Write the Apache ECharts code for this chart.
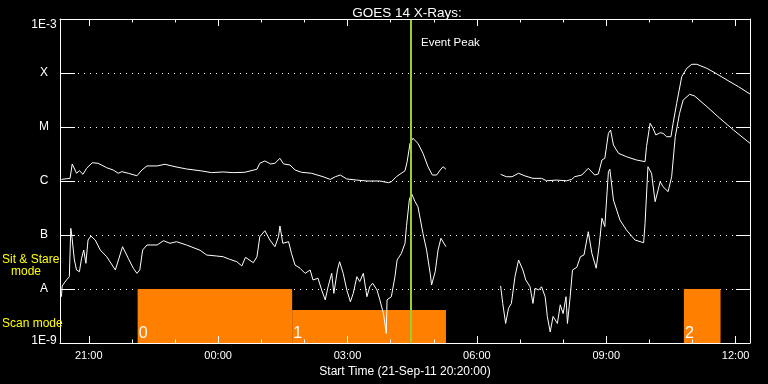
<!DOCTYPE html>
<html>
<head>
<meta charset="utf-8">
<script src="https://cdn.jsdelivr.net/npm/echarts@6/dist/echarts.min.js"></script>
<style>
html,body{margin:0;padding:0;background:#000;}
#chart{width:768px;height:384px;}
</style>
</head>
<body>
<div id="chart"></div>
<script>
// ---- data (times are clock times from 21-Sep-11 20:20 to 22-Sep-11 12:20) ----
const chartTitle = 'GOES 14 X-Rays:';
const xAxisName = 'Start Time (21-Sep-11 20:20:00)';
const xStart = '20:20';
const xEnd = '12:20';
const majorTickTimes = ['21:00', '00:00', '03:00', '06:00', '09:00', '12:00'];
const minorTickTimes = ['22:00', '23:00', '01:00', '02:00', '04:00', '05:00', '07:00', '08:00', '10:00', '11:00'];
const yExponents = [-9, -8, -7, -6, -5, -4, -3];
const yTickLabels = ['1E-9', 'A', 'B', 'C', 'M', 'X', '1E-3'];

// 1-8 Angstrom channel (upper curve), W/m^2
const upperTimes = ['20:22','20:34','20:37','20:43','20:47','20:52','20:57','21:05','21:13','21:25','21:34','21:41','21:46','21:55','22:07','22:14','22:21','22:35','22:46','23:00','23:16','23:35','23:51','00:07','00:21','00:37','00:54','00:58','01:05','01:13','01:19','01:26','01:31','01:40','01:47','01:56','02:10','02:26','02:36','02:43','02:50','02:59','03:13','03:27','03:45','03:57','04:01','04:08','04:20','04:23','04:27','04:31','04:38','04:45','04:52','04:58','05:04','05:09','05:13','05:17','06:00','06:33','06:41','06:49','06:58','07:07','07:18','07:30','07:37','07:51','08:05','08:12','08:16','08:26','08:35','08:44','08:49','08:54','08:58','09:03','09:06','09:10','09:17','09:28','09:42','09:54','09:56','10:01','10:05','10:09','10:15','10:19','10:24','10:30','10:33','10:38','10:45','10:52','10:59','11:06','11:20','11:34','11:48','12:04','12:20'];
const upperFlux = [1.07e-6,1.12e-6,2.07e-6,1.39e-6,1.55e-6,1.33e-6,1.72e-6,2.18e-6,2.13e-6,1.76e-6,1.60e-6,1.39e-6,1.49e-6,1.39e-6,1.25e-6,1.60e-6,1.90e-6,1.90e-6,2.04e-6,1.84e-6,1.67e-6,1.55e-6,1.43e-6,1.47e-6,1.43e-6,1.45e-6,1.65e-6,2.13e-6,2.35e-6,2.07e-6,2.13e-6,2.63e-6,2.07e-6,1.98e-6,1.60e-6,1.45e-6,1.39e-6,1.20e-6,1.07e-6,1.20e-6,1.29e-6,1.09e-6,1.04e-6,1.00e-6,1.00e-6,9.3e-7,9.7e-7,1.20e-6,1.55e-6,2.28e-6,4.99e-6,6.18e-6,4.99e-6,3.26e-6,1.84e-6,1.29e-6,1.29e-6,1.60e-6,1.84e-6,1.65e-6,null,1.33e-6,1.20e-6,1.20e-6,1.39e-6,1.24e-6,1.12e-6,1.12e-6,1.01e-6,1.04e-6,1.01e-6,1.07e-6,1.20e-6,1.29e-6,1.72e-6,1.29e-6,1.35e-6,2.45e-6,2.63e-6,7.64e-6,8.80e-6,4.64e-6,3.26e-6,2.82e-6,2.45e-6,2.28e-6,4.32e-6,1.17e-5,9.46e-6,7.11e-6,7.84e-6,7.64e-6,6.61e-6,6.61e-6,1.17e-5,2.75e-5,8.54e-5,1.22e-4,1.45e-4,1.45e-4,1.22e-4,9.58e-5,7.41e-5,5.57e-5,4.08e-5];

// 0.5-4 Angstrom channel (lower curve), W/m^2
const lowerTimes = ['20:22','20:23','20:29','20:33','20:35','20:36','20:40','20:43','20:47','20:50','20:53','20:56','20:59','21:03','21:09','21:16','21:25','21:37','21:47','21:55','22:02','22:07','22:11','22:15','22:21','22:35','22:44','22:53','23:02','23:16','23:35','23:44','23:58','00:07','00:16','00:26','00:33','00:38','00:49','00:54','00:58','01:05','01:12','01:19','01:24','01:26','01:30','01:38','01:42','01:47','01:54','02:01','02:08','02:12','02:19','02:24','02:29','02:33','02:38','02:41','02:46','02:49','02:54','02:59','03:04','03:08','03:13','03:17','03:22','03:27','03:31','03:35','03:41','03:45','03:50','03:54','03:55','04:01','04:06','04:09','04:15','04:20','04:22','04:26','04:29','04:34','04:38','04:45','04:50','04:55','04:57','05:02','05:06','05:10','05:17','06:00','06:33','06:36','06:40','06:44','06:48','06:53','06:58','07:04','07:08','07:14','07:18','07:21','07:26','07:30','07:35','07:38','07:42','07:46','07:52','07:56','08:00','08:04','08:06','08:10','08:13','08:19','08:24','08:29','08:35','08:40','08:46','08:50','08:54','08:58','09:03','09:05','09:10','09:19','09:28','09:40','09:52','09:54','09:58','10:03','10:08','10:15','10:19','10:26','10:31','10:36','10:42','10:47','10:56','11:03','11:20','11:38','11:57','12:20'];
const lowerFlux = [7.2e-9,1.14e-8,1.47e-8,1.69e-8,1.33e-7,1.09e-7,3.44e-8,2.25e-8,2.09e-8,3.70e-8,5.27e-8,2.99e-8,8.07e-8,9.57e-8,8.07e-8,5.27e-8,3.96e-8,2.25e-8,6.07e-8,3.70e-8,2.42e-8,1.95e-8,2.25e-8,5.27e-8,6.53e-8,6.53e-8,7.84e-8,7.02e-8,7.52e-8,6.53e-8,5.21e-8,4.26e-8,4.08e-8,3.96e-8,3.55e-8,3.20e-8,2.67e-8,3.86e-8,3.07e-8,3.96e-8,9.31e-8,1.20e-7,8.07e-8,6.07e-8,9.31e-8,1.47e-7,7.02e-8,7.52e-8,4.58e-8,2.78e-8,2.42e-8,1.95e-8,2.25e-8,1.47e-8,1.58e-8,9.6e-9,6.3e-9,1.10e-8,1.95e-8,8.3e-9,2.25e-8,3.20e-8,1.95e-8,9.6e-9,5.8e-9,8.3e-9,1.69e-8,1.37e-8,1.95e-8,7.2e-9,1.10e-8,1.28e-8,9.6e-9,6.3e-9,3.5e-9,1.5e-9,6.3e-9,7.2e-9,1.69e-8,3.44e-8,4.58e-8,7.02e-8,1.43e-7,4.45e-7,5.92e-7,4.14e-7,3.34e-7,1.07e-7,5.27e-8,1.95e-8,1.19e-8,2.09e-8,5.27e-8,8.69e-8,6.07e-8,null,1.14e-8,5.4e-9,2.3e-9,4.4e-9,5.4e-9,1.69e-8,3.44e-8,2.25e-8,1.47e-8,1.10e-8,5.4e-9,1.03e-8,9.6e-9,1.10e-8,7.2e-9,3.1e-9,1.6e-9,3.1e-9,2.3e-9,5.1e-9,3.5e-9,7.2e-9,2.3e-9,7.7e-9,2.25e-8,2.52e-8,3.96e-8,4.26e-8,1.15e-7,4.58e-8,2.42e-8,6.07e-8,2.04e-7,1.43e-7,1.49e-6,1.65e-6,4.45e-7,1.90e-7,1.24e-7,8.07e-8,7.20e-8,1.65e-7,1.84e-6,1.39e-6,4.14e-7,9.7e-7,7.84e-7,6.34e-7,1.20e-6,6.61e-6,1.79e-5,3.16e-5,4.03e-5,3.75e-5,2.38e-5,1.45e-5,8.80e-6,4.99e-6];

// instrument mode intervals
const modeStart = ['22:08', '01:43', '10:48'];
const modeEnd = ['01:43', '05:17', '11:39'];
const modeTop = [1e-8, 4.1e-9, 1e-8];
const modeLabels = ['0', '1', '2'];

const eventPeakTime = '04:28';
const eventPeakLabel = 'Event Peak';

// ---- helpers ----
function toHours(s) {
  const [h, m] = s.split(':').map(Number);
  let v = h + m / 60;
  if (v < 20) v += 24;
  return v;
}
function pairs(times, flux) {
  return times.map((t, i) => [toHours(t), flux[i] == null ? '-' : flux[i]]);
}
const xMin = toHours(xStart), xMax = toHours(xEnd);
const majorVals = majorTickTimes.map(toHours);
const minorVals = minorTickTimes.map(toHours);
const labelMap = {};
yExponents.forEach((e, i) => labelMap[e] = yTickLabels[i]);

const FONT = 'Liberation Sans';
function xAx(pos, vals, len, showLine, showLabel) {
  return {
    type: 'value', position: pos, min: xMin, max: xMax, z: 10,
    axisLine: {show: showLine, onZero: false, lineStyle: {color: '#fff', width: 1}},
    axisTick: {show: true, inside: true, length: len, customValues: vals, lineStyle: {color: '#fff', width: 1}},
    axisLabel: {show: showLabel, customValues: vals, color: '#fff', fontFamily: FONT, fontSize: 11, margin: 7,
      formatter: v => { const h = Math.round(v) % 24; return (h < 10 ? '0' : '') + h + ':00'; }},
    splitLine: {show: false}
  };
}
const xAxes = [
  xAx('bottom', majorVals, 7, true, true),
  xAx('bottom', minorVals, 3.5, false, false),
  xAx('top', majorVals, 7, true, false),
  xAx('top', minorVals, 3.5, false, false)
];
Object.assign(xAxes[0], {
  name: xAxisName, nameLocation: 'middle', nameGap: 18,
  nameTextStyle: {color: '#fff', fontFamily: FONT, fontSize: 12}
});

const chart = echarts.init(document.getElementById('chart'), null, {renderer: 'canvas'});
chart.setOption({
  backgroundColor: '#000',
  animation: false,
  title: {text: chartTitle, left: 402, top: 1, textAlign: 'center',
    textStyle: {color: '#fff', fontFamily: FONT, fontSize: 13.5, fontWeight: 'normal'}},
  grid: {left: 60, right: 18, top: 19, bottom: 41},
  xAxis: xAxes,
  yAxis: [
    {type: 'log', logBase: 10, min: 1e-9, max: 1e-3, interval: 1, position: 'left',
     axisLine: {show: true, lineStyle: {color: '#fff', width: 1}},
     axisTick: {show: true, inside: true, length: 15, lineStyle: {color: '#fff'}},
     minorTick: {show: false},
     axisLabel: {color: '#fff', fontFamily: FONT, fontSize: 12, margin: 16, align: 'center',
       formatter: v => {
         const e = Math.round(Math.log10(v));
         const t = labelMap[e] || '';
         if (e === -3) return '{top|' + t + '}';
         if (e === -9) return '{bot|' + t + '}';
         return t;
       },
       rich: {
         top: {color: '#fff', fontFamily: FONT, fontSize: 12, padding: [12, 0, 0, 0]},
         bot: {color: '#fff', fontFamily: FONT, fontSize: 12, padding: [0, 0, 5, 0]}
       }},
     splitLine: {show: true, lineStyle: {color: '#fff', width: 1, type: [1, 5]}}},
    {type: 'log', logBase: 10, min: 1e-9, max: 1e-3, interval: 1, position: 'right',
     axisLine: {show: true, lineStyle: {color: '#fff', width: 1}},
     axisTick: {show: true, inside: true, length: 14, lineStyle: {color: '#fff'}},
     axisLabel: {show: false}, splitLine: {show: false}}
  ],
  graphic: [
    {type: 'text', left: 2, top: 254, style: {text: 'Sit & Stare', fill: '#ffff00', font: '12px "Liberation Sans"'}, z: 20},
    {type: 'text', left: 11, top: 266, style: {text: 'mode', fill: '#ffff00', font: '12px "Liberation Sans"'}, z: 20},
    {type: 'text', left: 2, top: 318, style: {text: 'Scan mode', fill: '#ffff00', font: '12px "Liberation Sans"'}, z: 20},
    {type: 'text', left: 421, top: 37, style: {text: eventPeakLabel, fill: '#fff', font: '11.5px "Liberation Sans"'}, z: 20}
  ],
  series: [
    {type: 'line', name: 'modes', xAxisIndex: 0, yAxisIndex: 0, data: [], z: 1, silent: true,
     markArea: {silent: true,
       itemStyle: {color: '#ff8000', borderWidth: 0},
       label: {show: true, position: 'insideBottomLeft', distance: 1, color: '#fff', fontFamily: FONT, fontSize: 16},
       data: modeStart.map((s, i) => [
         {name: modeLabels[i], xAxis: toHours(s), yAxis: modeTop[i]},
         {xAxis: toHours(modeEnd[i]), yAxis: 1e-9}
       ])}},
    {type: 'line', name: '1-8 A', xAxisIndex: 0, yAxisIndex: 0, data: pairs(upperTimes, upperFlux),
     showSymbol: false, connectNulls: false, z: 3, lineStyle: {color: '#fff', width: 1}},
    {type: 'line', name: '0.5-4 A', xAxisIndex: 0, yAxisIndex: 0, data: pairs(lowerTimes, lowerFlux),
     showSymbol: false, connectNulls: false, z: 3, lineStyle: {color: '#fff', width: 1}},
    {type: 'line', name: 'peak', xAxisIndex: 0, yAxisIndex: 0, data: [], z: 4,
     markLine: {silent: true, symbol: 'none', label: {show: false},
       lineStyle: {color: '#9acd32', width: 2, type: 'solid'},
       data: [{xAxis: toHours(eventPeakTime)}]}}
  ]
});
</script>
</body>
</html>
